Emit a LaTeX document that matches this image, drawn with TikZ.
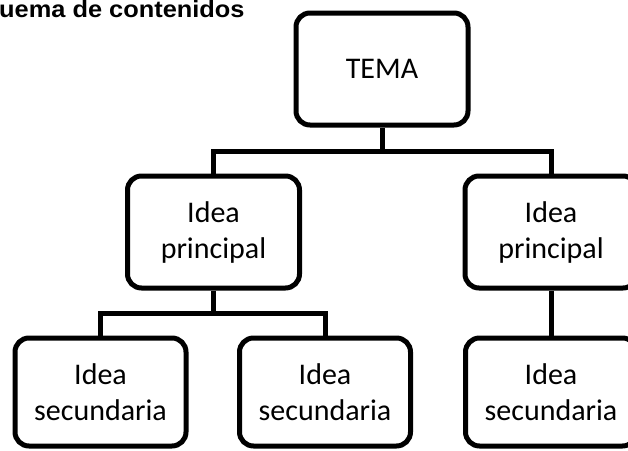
\documentclass[tikz,border=0pt]{standalone}
\usepackage{fontspec}
\setmainfont{Carlito}
\newfontfamily\titlefont{Liberation Sans}
\begin{document}
\begin{tikzpicture}[x=1pt,y=-1pt,
  box/.style={draw=black,line width=5pt,rounded corners=14pt,align=center,
    font=\fontsize{30}{36}\selectfont,inner sep=0pt},
  bigbox/.style={box,minimum width=172pt,minimum height=112pt},
  subbox/.style={box,minimum width=171pt,minimum height=108pt},
  conn/.style={line width=5pt}]
\useasboundingbox (0,0) rectangle (628,450);
\clip (0,0) rectangle (628,450);
\node[anchor=base west,inner sep=0pt,font=\titlefont\bfseries\fontsize{23.5}{28}\selectfont] (title) at (-1,17.5) {\scalebox{1.08}[1]{uema de contenidos}};
\node[bigbox] (tema) at (382,69) {TEMA};
\node[bigbox] (p1) at (213.5,232) {Idea\\principal};
\node[bigbox] (p2) at (551,232) {Idea\\principal};
\node[subbox] (s1) at (100.5,392) {Idea\\secundaria};
\node[subbox] (s2) at (325,392) {Idea\\secundaria};
\node[subbox] (s3) at (551,392) {Idea\\secundaria};
\coordinate (j1) at (382,151);
\coordinate (j2) at (213.5,313);
\draw[conn] (tema.south) -- (j1);
\draw[conn] (p1.north) |- (j1) -| (p2.north);
\draw[conn] (p1.south) -- (j2);
\draw[conn] (s1.north) |- (j2) -| (s2.north);
\draw[conn] (p2.south) -- (s3.north);
\end{tikzpicture}
\end{document}
